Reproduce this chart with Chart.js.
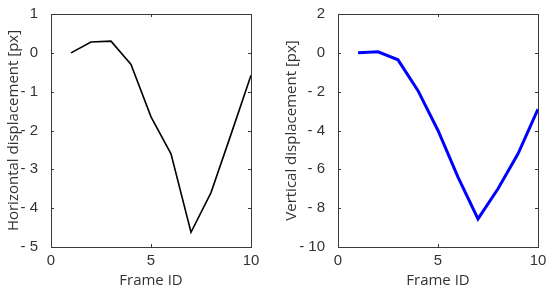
<!DOCTYPE html>
<html>
<head>
<meta charset="utf-8">
<script src="https://cdn.jsdelivr.net/npm/chart.js@4.4.1/dist/chart.umd.min.js"></script>
<style>
  html, body { margin: 0; padding: 0; background: #fff; }
  .row { display: flex; width: 550px; height: 291px; }
  .cell { width: 275px; height: 291px; position: relative; }
</style>
</head>
<body>
<div class="row">
  <div class="cell"><canvas id="horizChart" width="275" height="291"></canvas></div>
  <div class="cell"><canvas id="vertChart" width="275" height="291"></canvas></div>
</div>
<script>
// ─── Data ─────────────────────────────────────
const frameIds = [1, 2, 3, 4, 5, 6, 7, 8, 9, 10];
const horizontalDisp = [0, 0.28, 0.30, -0.30, -1.65, -2.60, -4.62, -3.60, -2.10, -0.58];
const verticalDisp = [0, 0.05, -0.36, -1.95, -4.0, -6.4, -8.55, -7.0, -5.2, -2.9];
const xTicks = [0, 5, 10];
const horizTicks = [1, 0, -1, -2, -3, -4, -5];
const vertTicks = [2, 0, -2, -4, -6, -8, -10];

const TEXT = '#333333';
const AXIS = '#3a3a3a';

function fmt(v) {
    return v < 0 ? '- ' + Math.abs(v) : String(v);
}

// box round the plot area with short inward ticks (MATLAB style)
const boxPlugin = {
    id: 'box',
    afterDraw(chart) {
        const { ctx, chartArea: a, scales } = chart;
        ctx.save();
        ctx.strokeStyle = AXIS;
        ctx.lineWidth = 1;
        ctx.strokeRect(Math.round(a.left) + 0.5, Math.round(a.top) + 0.5,
            Math.round(a.right - a.left), Math.round(a.bottom - a.top));
        const len = 3;
        ctx.beginPath();
        scales.x.ticks.forEach(t => {
            const px = Math.round(scales.x.getPixelForValue(t.value)) + 0.5;
            ctx.moveTo(px, a.bottom); ctx.lineTo(px, a.bottom - len);
            ctx.moveTo(px, a.top); ctx.lineTo(px, a.top + len);
        });
        scales.y.ticks.forEach(t => {
            const py = Math.round(scales.y.getPixelForValue(t.value)) + 0.5;
            ctx.moveTo(a.left, py); ctx.lineTo(a.left + len, py);
            ctx.moveTo(a.right, py); ctx.lineTo(a.right - len, py);
        });
        ctx.stroke();
        ctx.restore();
    }
};

function makeChart(id, values, yTicks, color, width, yTitle, yWidth, padRight, titlePad) {
    return new Chart(document.getElementById(id), {
        type: 'line',
        data: {
            datasets: [{
                data: frameIds.map((f, i) => ({ x: f, y: values[i] })),
                borderColor: color,
                borderWidth: width,
                pointRadius: 0,
                tension: 0,
                fill: false,
            }]
        },
        options: {
            responsive: false,
            animation: false,
            layout: { padding: { top: 13, right: padRight, left: 0, bottom: 0 } },
            plugins: { legend: { display: false }, tooltip: { enabled: false } },
            scales: {
                x: {
                    type: 'linear',
                    min: 0, max: 10,
                    afterBuildTicks: s => { s.ticks = xTicks.map(v => ({ value: v })); },
                    afterFit: s => { s.height = 44; },
                    grid: { display: false },
                    border: { display: false },
                    ticks: { color: TEXT, padding: -3, maxRotation: 0, font: { family: 'Liberation Sans', size: 15 } },
                    title: { display: true, text: 'Frame ID', color: TEXT, padding: { top: 0, bottom: 1 },
                        font: { family: 'Open Sans', size: 15 } }
                },
                y: {
                    type: 'linear',
                    min: yTicks[yTicks.length - 1], max: yTicks[0],
                    afterBuildTicks: s => { s.ticks = yTicks.slice().reverse().map(v => ({ value: v })); },
                    afterFit: s => { s.width = yWidth; },
                    grid: { display: false },
                    border: { display: false },
                    ticks: { color: TEXT, padding: 5, autoSkip: false, callback: v => fmt(v), font: { family: 'Liberation Sans', size: 15 } },
                    title: { display: true, text: yTitle, color: TEXT, padding: { top: titlePad, bottom: 0 },
                        font: { family: 'Open Sans', size: 15 } }
                }
            }
        },
        plugins: [boxPlugin]
    });
}

makeChart('horizChart', horizontalDisp, horizTicks, '#000000', 1.6,
    'Horizontal displacement [px]', 51, 24, 5);
makeChart('vertChart', verticalDisp, vertTicks, '#0000ff', 3,
    'Vertical displacement [px]', 63, 12, 8);
</script>
</body>
</html>
